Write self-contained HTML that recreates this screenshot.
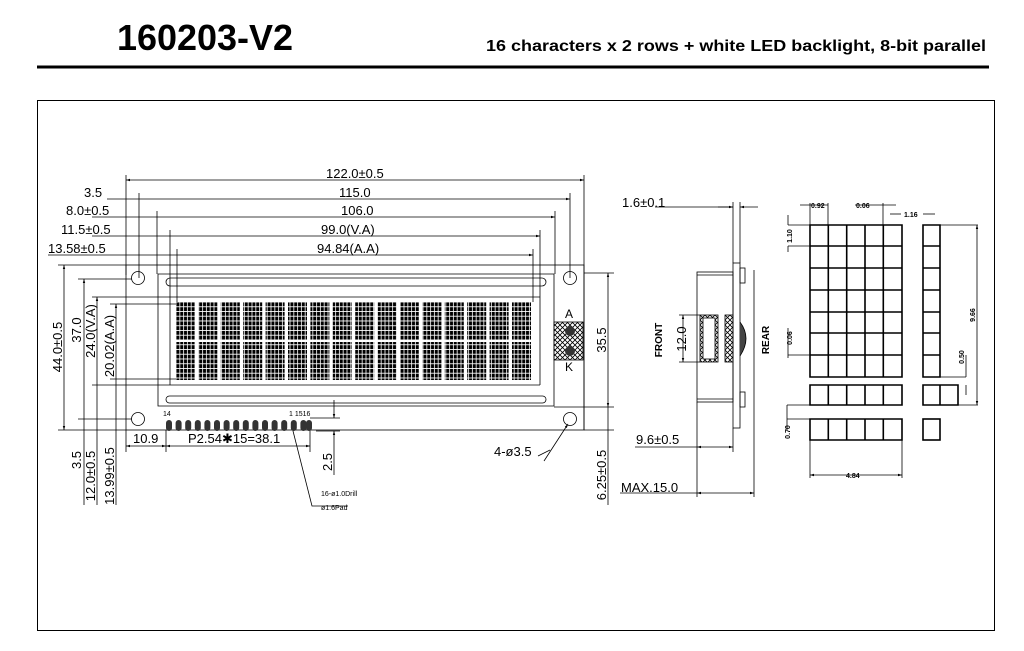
<!DOCTYPE html>
<html><head><meta charset="utf-8"><style>
html,body{margin:0;padding:0;background:#fff;width:1024px;height:651px;overflow:hidden}
svg{display:block}
text{font-family:"Liberation Sans",sans-serif;fill:#000}
</style></head><body>
<svg width="1024" height="651" viewBox="0 0 1024 651" xmlns="http://www.w3.org/2000/svg">
<defs>
<pattern id="dots" x="176" y="302" width="3.8" height="4.75" patternUnits="userSpaceOnUse">
<rect width="3.8" height="4.75" fill="#fff"/>
<rect x="0.4" y="0.4" width="3" height="3.9" fill="#000"/>
</pattern>
<pattern id="hatch" width="5" height="5" patternUnits="userSpaceOnUse">
<path d="M0 0L5 5M5 0L0 5" stroke="#000" stroke-width="0.8"/>
</pattern>
<marker id="ar" viewBox="0 0 10 10" refX="10" refY="5" markerWidth="7" markerHeight="5" orient="auto-start-reverse"><path d="M0 2L10 5L0 8z" fill="#000"/></marker>
</defs>
<text x="117" y="50" font-size="36" font-weight="bold" textLength="176" lengthAdjust="spacingAndGlyphs">160203-V2</text>
<text x="486" y="51" font-size="15.5" font-weight="bold" textLength="500" lengthAdjust="spacingAndGlyphs">16 characters x 2 rows + white LED backlight, 8-bit parallel</text>
<rect x="37" y="65.5" width="952" height="3" fill="#000"/>
<rect x="37.5" y="100.5" width="957" height="530" fill="none" stroke="#000" stroke-width="1"/>

<g stroke="#000" stroke-width="0.8" fill="none">
<line x1="126" y1="180" x2="584" y2="180" marker-start="url(#ar)" marker-end="url(#ar)"/>
<line x1="139" y1="199" x2="570" y2="199" marker-end="url(#ar)"/>
<line x1="158" y1="217" x2="555" y2="217" marker-end="url(#ar)"/>
<line x1="170" y1="236" x2="540" y2="236" marker-end="url(#ar)"/>
<line x1="177" y1="255" x2="533" y2="255" marker-end="url(#ar)"/>
<line x1="107" y1="199" x2="139" y2="199"/>
<line x1="92" y1="217" x2="158" y2="217"/>
<line x1="92" y1="236" x2="170" y2="236"/>
<line x1="48" y1="255" x2="177" y2="255"/>
<line x1="126" y1="175" x2="126" y2="275"/>
<line x1="584" y1="175" x2="584" y2="430"/>
<line x1="139" y1="193" x2="139" y2="278"/>
<line x1="570" y1="193" x2="570" y2="278"/>
<line x1="157" y1="211" x2="157" y2="274"/>
<line x1="555" y1="211" x2="555" y2="274"/>
<line x1="170" y1="230" x2="170" y2="297"/>
<line x1="540" y1="230" x2="540" y2="297"/>
<line x1="177" y1="249" x2="177" y2="302"/>
<line x1="533" y1="249" x2="533" y2="302"/>
<rect x="126" y="265" width="458" height="165"/>
<path d="M158 274H554V406H158Z" />
<rect x="166" y="278" width="380" height="8" rx="4"/>
<rect x="166" y="396" width="380" height="7" rx="3.5"/>
<circle cx="138" cy="278" r="6.5"/><circle cx="570" cy="278" r="6.5"/>
<circle cx="138" cy="419" r="6.5"/><circle cx="570" cy="419" r="6.5"/>
<line x1="170" y1="297" x2="540" y2="297"/><line x1="170" y1="297" x2="170" y2="385"/>
<line x1="170" y1="385" x2="540" y2="385"/><line x1="540" y1="297" x2="540" y2="385"/>
<line x1="58" y1="265" x2="126" y2="265"/><line x1="58" y1="430" x2="126" y2="430"/>
<line x1="64" y1="265" x2="64" y2="430" marker-start="url(#ar)" marker-end="url(#ar)"/>
<line x1="78" y1="279" x2="132" y2="279"/><line x1="78" y1="419" x2="132" y2="419"/>
<line x1="84" y1="279" x2="84" y2="505" marker-start="url(#ar)"/>
<line x1="92" y1="297" x2="170" y2="297"/><line x1="92" y1="385" x2="170" y2="385"/>
<line x1="97" y1="297" x2="97" y2="505" marker-start="url(#ar)"/>
<line x1="110" y1="304" x2="176" y2="304"/><line x1="110" y1="379" x2="176" y2="379"/>
<line x1="116" y1="304" x2="116" y2="505" marker-start="url(#ar)"/>
<line x1="584" y1="273" x2="614" y2="273"/><line x1="554" y1="407" x2="614" y2="407"/><line x1="584" y1="430" x2="614" y2="430"/>
<line x1="608" y1="273" x2="608" y2="407" marker-start="url(#ar)" marker-end="url(#ar)"/>
<line x1="608" y1="407" x2="608" y2="505"/>
<line x1="126" y1="430" x2="126" y2="452"/><line x1="166" y1="430" x2="166" y2="452"/><line x1="310" y1="430" x2="310" y2="452"/>
<line x1="126" y1="446" x2="166" y2="446" marker-start="url(#ar)" marker-end="url(#ar)"/>
<line x1="166" y1="446" x2="310" y2="446" marker-start="url(#ar)" marker-end="url(#ar)"/>
<line x1="334" y1="400" x2="334" y2="418" marker-end="url(#ar)"/>
<line x1="334" y1="431" x2="334" y2="475" marker-start="url(#ar)"/>
<line x1="310" y1="418" x2="340" y2="418"/><line x1="316" y1="431" x2="340" y2="431"/>
<polyline points="292,427 312,506 348,506"/>
<line x1="544" y1="461" x2="568" y2="424" marker-end="url(#ar)"/>
<line x1="538" y1="456" x2="550" y2="450"/>
</g>
<g fill="url(#dots)">
<rect x="176" y="302" width="19" height="38"/><rect x="198.4" y="302" width="19" height="38"/><rect x="220.8" y="302" width="19" height="38"/><rect x="243.2" y="302" width="19" height="38"/><rect x="265.6" y="302" width="19" height="38"/><rect x="288" y="302" width="19" height="38"/><rect x="310.4" y="302" width="19" height="38"/><rect x="332.8" y="302" width="19" height="38"/><rect x="355.2" y="302" width="19" height="38"/><rect x="377.6" y="302" width="19" height="38"/><rect x="400" y="302" width="19" height="38"/><rect x="422.4" y="302" width="19" height="38"/><rect x="444.8" y="302" width="19" height="38"/><rect x="467.2" y="302" width="19" height="38"/><rect x="489.6" y="302" width="19" height="38"/><rect x="512" y="302" width="19" height="38"/>
<rect x="176" y="342" width="19" height="38"/><rect x="198.4" y="342" width="19" height="38"/><rect x="220.8" y="342" width="19" height="38"/><rect x="243.2" y="342" width="19" height="38"/><rect x="265.6" y="342" width="19" height="38"/><rect x="288" y="342" width="19" height="38"/><rect x="310.4" y="342" width="19" height="38"/><rect x="332.8" y="342" width="19" height="38"/><rect x="355.2" y="342" width="19" height="38"/><rect x="377.6" y="342" width="19" height="38"/><rect x="400" y="342" width="19" height="38"/><rect x="422.4" y="342" width="19" height="38"/><rect x="444.8" y="342" width="19" height="38"/><rect x="467.2" y="342" width="19" height="38"/><rect x="489.6" y="342" width="19" height="38"/><rect x="512" y="342" width="19" height="38"/>
</g>
<rect x="554" y="322" width="29" height="38" fill="url(#hatch)" stroke="#000" stroke-width="0.8"/>
<circle cx="570" cy="331" r="5" fill="#333"/><circle cx="570" cy="351" r="5" fill="#333"/>
<text x="565" y="318" font-size="12">A</text><text x="565" y="371" font-size="12">K</text>
<g fill="#333">
<rect x="166" y="420" width="6" height="11" rx="3"/><rect x="175.6" y="420" width="6" height="11" rx="3"/><rect x="185.2" y="420" width="6" height="11" rx="3"/><rect x="194.8" y="420" width="6" height="11" rx="3"/><rect x="204.4" y="420" width="6" height="11" rx="3"/><rect x="214" y="420" width="6" height="11" rx="3"/><rect x="223.6" y="420" width="6" height="11" rx="3"/><rect x="233.2" y="420" width="6" height="11" rx="3"/><rect x="242.8" y="420" width="6" height="11" rx="3"/><rect x="252.4" y="420" width="6" height="11" rx="3"/><rect x="262" y="420" width="6" height="11" rx="3"/><rect x="271.6" y="420" width="6" height="11" rx="3"/><rect x="281.2" y="420" width="6" height="11" rx="3"/><rect x="290.8" y="420" width="6" height="11" rx="3"/><rect x="300.4" y="420" width="6" height="11" rx="3"/><rect x="306" y="420" width="6" height="11" rx="3"/>
</g>
<text x="163" y="416" font-size="7">14</text><text x="289" y="416" font-size="7">1 1516</text>
<g font-size="13">
<text x="326" y="178">122.0±0.5</text>
<text x="339" y="197">115.0</text>
<text x="341" y="215">106.0</text>
<text x="321" y="234">99.0(V.A)</text>
<text x="317" y="253">94.84(A.A)</text>
<text x="84" y="197">3.5</text>
<text x="66" y="215">8.0±0.5</text>
<text x="61" y="234">11.5±0.5</text>
<text x="48" y="253">13.58±0.5</text>
<text x="133" y="443">10.9</text>
<text x="188" y="443">P2.54✱15=38.1</text>
<text x="494" y="456">4-ø3.5</text>
<text x="622" y="207">1.6±0.1</text>
<text x="636" y="444">9.6±0.5</text>
<text x="621" y="492">MAX.15.0</text>
</g>
<g font-size="13">
<text transform="translate(62,347) rotate(-90)" text-anchor="middle">44.0±0.5</text>
<text transform="translate(81,330) rotate(-90)" text-anchor="middle">37.0</text>
<text transform="translate(95,331) rotate(-90)" text-anchor="middle">24.0(V.A)</text>
<text transform="translate(114,346) rotate(-90)" text-anchor="middle">20.02(A.A)</text>
<text transform="translate(81,460) rotate(-90)" text-anchor="middle">3.5</text>
<text transform="translate(95,476) rotate(-90)" text-anchor="middle">12.0±0.5</text>
<text transform="translate(114,476) rotate(-90)" text-anchor="middle">13.99±0.5</text>
<text transform="translate(332,462) rotate(-90)" text-anchor="middle">2.5</text>
<text transform="translate(606,340) rotate(-90)" text-anchor="middle">35.5</text>
<text transform="translate(606,475) rotate(-90)" text-anchor="middle">6.25±0.5</text>
<text transform="translate(686,339) rotate(-90)" text-anchor="middle">12.0</text>
</g>
<text x="321" y="496" font-size="7">16-ø1.0Drill</text>
<text x="321" y="510" font-size="7">ø1.6Pad</text>
<g stroke="#000" stroke-width="0.8" fill="none">
<line x1="655" y1="207" x2="733" y2="207"/>
<line x1="718" y1="207" x2="733" y2="207" marker-end="url(#ar)"/>
<line x1="758" y1="207" x2="740" y2="207" marker-end="url(#ar)"/>
<line x1="733" y1="202" x2="733" y2="263"/><line x1="740" y1="202" x2="740" y2="263"/>
<rect x="733" y="263" width="7" height="165"/>
<rect x="697" y="272" width="36" height="130"/>
<line x1="697" y1="275" x2="733" y2="275"/><line x1="697" y1="399" x2="733" y2="399"/>
<rect x="740" y="268" width="5" height="15"/><rect x="740" y="392" width="5" height="15"/>
<rect x="700" y="315" width="18" height="47" fill="url(#hatch)"/>
<rect x="703" y="318" width="12" height="41" fill="#fff"/>
<rect x="725" y="315" width="8" height="47" fill="url(#hatch)"/>
<path d="M740 322 Q752 338 740 356" fill="#444"/>
<line x1="754" y1="270" x2="754" y2="497"/>
<line x1="679" y1="315" x2="700" y2="315"/><line x1="679" y1="362" x2="700" y2="362"/>
<line x1="683" y1="315" x2="683" y2="362" marker-start="url(#ar)" marker-end="url(#ar)"/>
<line x1="635" y1="447" x2="697" y2="447"/>
<line x1="697" y1="447" x2="733" y2="447" marker-start="url(#ar)" marker-end="url(#ar)"/>
<line x1="733" y1="428" x2="733" y2="452"/>
<line x1="697" y1="402" x2="697" y2="497"/>
<line x1="620" y1="493" x2="697" y2="493"/>
<line x1="697" y1="493" x2="754" y2="493" marker-start="url(#ar)" marker-end="url(#ar)"/>
</g>
<text transform="translate(662,340) rotate(-90)" text-anchor="middle" font-size="10" font-weight="bold">FRONT</text>
<text transform="translate(769,340) rotate(-90)" text-anchor="middle" font-size="10" font-weight="bold">REAR</text>
<g stroke="#000" stroke-width="1.6" fill="none">
<path d="M810 225H902V377H810Z M828.3 225V377 M846.7 225V377 M865 225V377 M883.3 225V377 M810 246H902 M810 268H902 M810 290H902 M810 312H902 M810 333H902 M810 355H902"/>
<path d="M810 385H902V405H810Z M828.3 385V405 M846.7 385V405 M865 385V405 M883.3 385V405"/>
<path d="M810 419H902V440H810Z M828.3 419V440 M846.7 419V440 M865 419V440 M883.3 419V440"/>
<path d="M923 225H940V377H923Z M923 246H940 M923 268H940 M923 290H940 M923 312H940 M923 333H940 M923 355H940"/>
<path d="M923 385H958V405H923Z M940 385V405"/>
<rect x="923" y="419" width="17" height="21"/>
</g>
<g stroke="#000" stroke-width="0.8" fill="none">
<line x1="800" y1="205" x2="828" y2="205"/><line x1="855" y1="205" x2="896" y2="205"/>
<line x1="810" y1="203" x2="810" y2="225"/><line x1="828" y1="203" x2="828" y2="225"/><line x1="883" y1="203" x2="883" y2="225"/>
<line x1="890" y1="214" x2="901" y2="214"/><line x1="923" y1="214" x2="935" y2="214"/>
<line x1="788" y1="215" x2="788" y2="225"/><line x1="788" y1="246" x2="788" y2="252"/>
<line x1="788" y1="225" x2="810" y2="225"/><line x1="788" y1="246" x2="810" y2="246"/>
<line x1="788" y1="328" x2="788" y2="358"/><line x1="788" y1="355" x2="810" y2="355"/>
<line x1="940" y1="225" x2="978" y2="225"/><line x1="958" y1="405" x2="978" y2="405"/>
<line x1="977" y1="225" x2="977" y2="405" marker-start="url(#ar)" marker-end="url(#ar)"/>
<line x1="940" y1="377" x2="966" y2="377"/><line x1="966" y1="355" x2="966" y2="377"/><line x1="966" y1="385" x2="966" y2="395"/>
<line x1="787" y1="405" x2="810" y2="405"/><line x1="787" y1="405" x2="787" y2="430"/><line x1="787" y1="419" x2="810" y2="419"/>
<line x1="810" y1="440" x2="810" y2="478"/><line x1="902" y1="440" x2="902" y2="478"/>
<line x1="810" y1="475" x2="902" y2="475" marker-start="url(#ar)" marker-end="url(#ar)"/>
</g>
<g font-size="7" font-weight="bold">
<text x="811" y="208">0.92</text><text x="856" y="208">0.06</text><text x="904" y="217">1.16</text>
<text transform="translate(792,236) rotate(-90)" text-anchor="middle">1.10</text>
<text transform="translate(792,338) rotate(-90)" text-anchor="middle">0.06</text>
<text transform="translate(975,315) rotate(-90)" text-anchor="middle">9.66</text>
<text transform="translate(964,357) rotate(-90)" text-anchor="middle">0.50</text>
<text transform="translate(790,432) rotate(-90)" text-anchor="middle">0.70</text>
<text x="846" y="478">4.84</text>
</g>
</svg>
</body></html>
